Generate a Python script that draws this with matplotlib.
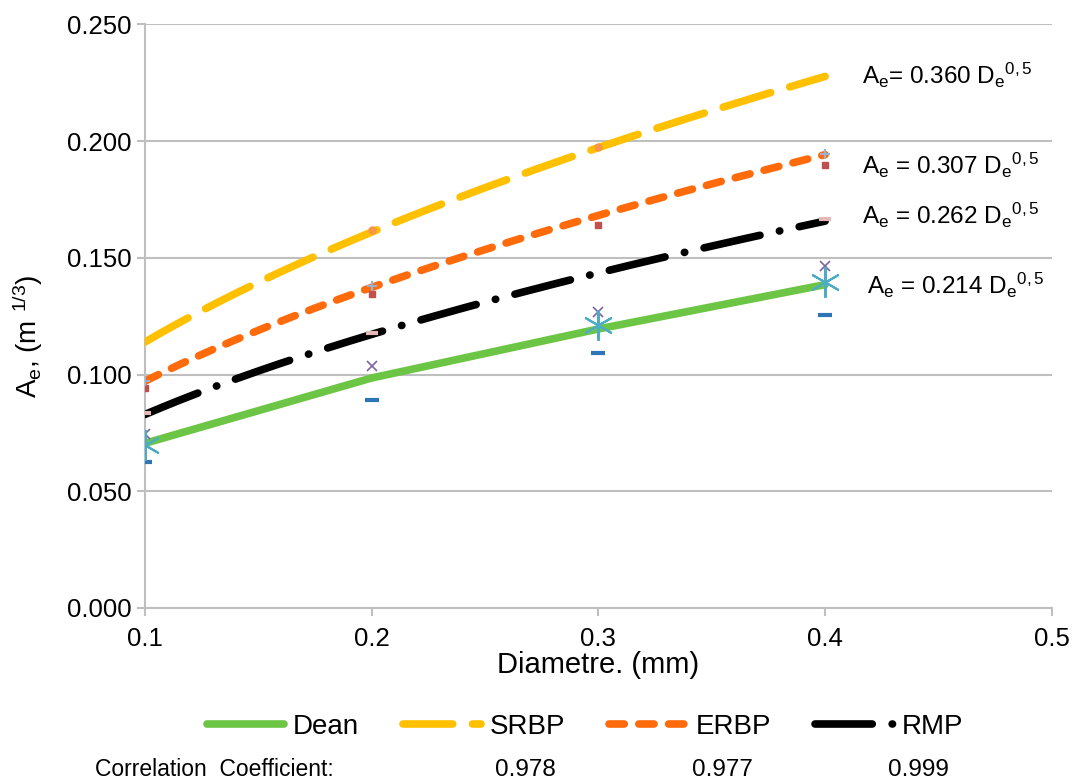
import numpy as np
import matplotlib
matplotlib.use("Agg")
from matplotlib import pyplot as plt

plt.rcParams["font.family"] = ["Liberation Sans", "DejaVu Sans"]
plt.rcParams["mathtext.fontset"] = "custom"
plt.rcParams["mathtext.rm"] = "Liberation Sans"
plt.rcParams["mathtext.it"] = "Liberation Sans:italic"

# grain diameter (mm)
diam = [0.1, 0.2, 0.3, 0.4]

# Dean curve
dean = [0.0705, 0.0985, 0.1195, 0.1385]

# trendline coefficients A = c * D^0.5 (from the annotations)
trend_names = ["SRBP", "ERBP", "RMP"]
trend_coef = [0.360, 0.307, 0.262]
trend_labels = ["0.360", "0.307", "0.262"]
dean_label = "0.214"
correlation = ["0.978", "0.977", "0.999"]

# scattered data points
nan = np.nan
pts_blue = [0.0626, 0.089, 0.1093, 0.1254]
pts_red = [0.0943, 0.1343, 0.1642, 0.1899]
pts_purple = [0.0745, 0.1037, 0.1266, 0.1464]
pts_cyan = [0.0698, nan, 0.1211, 0.1397]
pts_orange = [nan, 0.1618, 0.1975, nan]
pts_lightblue = [0.0972, 0.138, nan, 0.1946]
pts_pink = [0.0835, 0.1176, nan, 0.1668]

fig = plt.figure(figsize=(10.8, 7.84), dpi=100)
ax = fig.add_axes([0.134, 0.2245, 0.840, 0.7445])

xs = np.linspace(diam[0], diam[-1], 200)
styles = {
    "SRBP": dict(color="#FFC000", lw=5.5, dashes=(6.5, 2.6)),
    "ERBP": dict(color="#FF6A0A", lw=5.5, dashes=(2.0, 1.9)),
    "RMP": dict(color="#000000", lw=5.5, dashes=(7.5, 2.6, 0.05, 2.6)),
}

handles = []
h, = ax.plot(diam, dean, color="#6DC545", lw=5.5, solid_capstyle="round", label="Dean", zorder=3)
handles.append(h)
for name, c in zip(trend_names, trend_coef):
    h, = ax.plot(xs, c * xs ** 0.5, dash_capstyle="round", label=name, zorder=3, **styles[name])
    handles.append(h)

ax.plot(diam, pts_blue, ls="none", marker="_", ms=10, mew=3, color="#2E75B6", zorder=4)
ax.plot(diam, pts_red, ls="none", marker="s", ms=5, color="#C0504D", zorder=4)
ax.plot(diam, pts_purple, ls="none", marker="x", ms=7, mew=1.2, color="#8064A2", zorder=4)
ax.plot(diam, pts_cyan, ls="none", marker=(6, 2, 0), ms=22, mew=1.5, color="#4BACC6", zorder=4)
ax.plot(diam, pts_orange, ls="none", marker="o", ms=5, color="#F79646", zorder=4)
ax.plot(diam, pts_lightblue, ls="none", marker="+", ms=7, mew=1.5, color="#95B3D7", zorder=4)
ax.plot(diam, pts_pink, ls="none", marker="_", ms=9, mew=3, color="#E6B9B8", zorder=4)

ax.set_xlim(0.1, 0.5)
ax.set_ylim(0, 0.25)
ax.set_xticks([0.1, 0.2, 0.3, 0.4, 0.5])
ax.set_xticklabels(["0.1", "0.2", "0.3", "0.4", "0.5"])
ax.set_yticks(np.arange(0, 0.2501, 0.05))
ax.set_yticklabels([f"{v:.3f}" for v in np.arange(0, 0.2501, 0.05)])
ax.tick_params(labelsize=18.5, colors="#BFBFBF", labelcolor="black", length=6, width=1.5)
ax.tick_params(axis="x", pad=8)
ax.grid(axis="y", color="#BFBFBF", lw=1.5)
ax.set_axisbelow(True)
for s in ["top", "right"]:
    ax.spines[s].set_visible(False)
for s in ["left", "bottom"]:
    ax.spines[s].set_color("#BFBFBF")
    ax.spines[s].set_linewidth(1.5)

ax.set_xlabel("Diametre. (mm)", fontsize=21, labelpad=0)
ax.set_ylabel(r"A$_\mathrm{e}$, (m $^\mathrm{1/3}$)", fontsize=20)
ax.yaxis.set_label_coords(-0.110, 0.465)

# trendline equations
eq_pos = [(0.4163, 0.2282), (0.4163, 0.1896), (0.4163, 0.1682)]
for (x, y), lab, name in zip(eq_pos, trend_labels, trend_names):
    sep = "= " if name == "SRBP" else " = "
    ax.text(x, y, r"A$_\mathrm{e}$" + sep + lab + r" D$_\mathrm{e}$$^\mathrm{0,5}$",
            fontsize=17.5, va="center", ha="left")
ax.text(0.4185, 0.1383, r"A$_\mathrm{e}$ = " + dean_label + r" D$_\mathrm{e}$$^\mathrm{0,5}$",
        fontsize=17.5, va="center", ha="left")

leg = ax.legend(handles=handles, ncol=4, loc="center", bbox_to_anchor=(0.485, -0.204),
                frameon=False, fontsize=20, handlelength=2.8, handletextpad=0.3,
                columnspacing=1.6, borderaxespad=0)

fig.text(0.088, 0.018, "Correlation  Coefficient:", fontsize=16.5, ha="left", va="center")
for x, r in zip([0.486, 0.669, 0.850], correlation):
    fig.text(x, 0.018, r, fontsize=17.5, ha="center", va="center")

fig.savefig("out.png", dpi=100)
